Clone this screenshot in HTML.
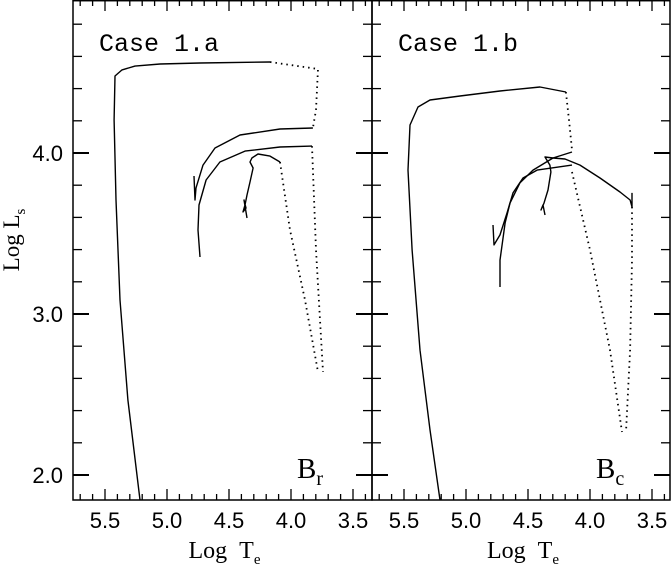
<!DOCTYPE html>
<html><head><meta charset="utf-8"><style>
html,body{margin:0;padding:0;background:#fff;}
svg{display:block;font-family:"Liberation Sans",sans-serif;}
</style></head><body>
<svg id="c" width="672" height="569" viewBox="0 0 672 569"></svg>
<script>
// Data (log Te, log L)
const xTicks = [5.5, 5.0, 4.5, 4.0, 3.5];
const xTickLabels = ["5.5", "5.0", "4.5", "4.0", "3.5"];
const yTicks = [2.0, 3.0, 4.0];
const yTickLabels = ["2.0", "3.0", "4.0"];
const panelTitles = ["Case 1.a", "Case 1.b"];
// Panel A tracks
const aMainT = [5.218,5.315,5.379,5.411,5.427,5.419,5.363,5.258,5.056,4.734,4.169];
const aMainL = [1.845,2.466,3.087,3.708,4.205,4.478,4.516,4.540,4.553,4.559,4.565];
const aDot1T = [4.169,3.782,3.798,3.823];
const aDot1L = [4.565,4.522,4.267,4.155];
const aUpT = [3.823,4.089,4.411,4.613,4.710,4.766,4.774,4.782];
const aUpL = [4.155,4.149,4.112,4.031,3.925,3.783,3.708,3.857];
const aLowT = [4.734,4.750,4.742,4.685,4.573,4.371,4.089,3.831];
const aLowL = [3.354,3.522,3.677,3.832,3.944,4.012,4.037,4.043];
const aDot2T = [3.831,3.798,3.766,3.742];
const aDot2L = [4.043,3.398,2.963,2.640];
const aDot3T = [4.089,4.008,3.887,3.782];
const aDot3L = [3.944,3.522,3.087,2.640];
const aLoopT = [4.089,4.169,4.266,4.315,4.331,4.306,4.331,4.355,4.371,4.387,4.363,4.379,4.355];
const aLoopL = [3.944,3.981,3.994,3.969,3.944,3.907,3.820,3.739,3.677,3.634,3.658,3.708,3.596];
// Panel B tracks
const bMainT = [5.210,5.290,5.371,5.435,5.468,5.452,5.387,5.290,5.048,4.726,4.403,4.194];
const bMainL = [1.845,2.280,2.776,3.398,3.894,4.174,4.286,4.329,4.354,4.385,4.410,4.379];
const bDot1T = [4.194,4.169,4.145];
const bDot1L = [4.379,4.205,4.019];
const bOutT = [4.145,4.298,4.460,4.565,4.645,4.685,4.726,4.726];
const bOutL = [4.006,3.969,3.894,3.814,3.689,3.565,3.335,3.168];
const bInT = [4.145,4.427,4.540,4.621,4.669,4.726,4.774,4.782];
const bInL = [3.925,3.894,3.845,3.752,3.627,3.491,3.429,3.553];
const bArcT = [4.298,4.202,4.081,3.919,3.758,3.677,3.661,3.661];
const bArcL = [3.969,3.963,3.925,3.845,3.758,3.708,3.665,3.752];
const bDot2T = [3.661,3.661,3.677,3.710];
const bDot2L = [3.665,3.335,2.776,2.267];
const bDot3T = [4.145,4.000,3.839,3.742];
const bDot3L = [3.882,3.398,2.776,2.267];
const bLoopT = [4.298,4.363,4.323,4.315,4.339,4.371,4.395,4.379,4.363];
const bLoopL = [3.969,3.975,3.925,3.882,3.770,3.689,3.646,3.677,3.615];

const svg = document.getElementById('c');
const NS = 'http://www.w3.org/2000/svg';
const panels = [{x0:73,x1:372,ref:105},{x0:372,x1:670,ref:404}];
const yTop = 0, yBot = 500;
function sx(p, t){ return p.ref + (5.5 - t) * 124; }
function sy(l){ return 475 - (l - 2) * 161; }
function mk(tag, attrs){ const e = document.createElementNS(NS, tag); for (const k in attrs) e.setAttribute(k, attrs[k]); svg.appendChild(e); return e; }
function line(x1,y1,x2,y2,w){ return mk('line',{x1,y1,x2,y2,stroke:'#000','stroke-width':w||1.3}); }

panels.forEach((p, i) => {
  const fr = mk('rect',{x:p.x0,y:yTop+0.7,width:p.x1-p.x0,height:yBot-yTop-0.7,fill:'none',stroke:'#000','stroke-width':1.5});
  
  
  for (let k = 0; k <= 25; k++) {
    const t = 5.8 - k * 0.1;
    const x = sx(p, t);
    if (x <= p.x0 + 1 || x >= p.x1 - 1) continue;
    const major = Math.abs(t * 2 - Math.round(t * 2)) < 1e-6;
    const len = major ? 11 : 6;
    line(x, yBot, x, yBot - len);
    line(x, yTop, x, yTop + len);
  }
  for (let k = 0; k <= 16; k++) {
    const l = 1.8 + k * 0.2;
    const y = sy(l);
    if (y <= yTop + 1 || y >= yBot - 1) continue;
    const major = Math.abs(l - Math.round(l)) < 1e-6;
    const len = major ? 16 : 9;
    line(p.x0, y, p.x0 + len, y, major ? 2 : 1.3);
    line(p.x1, y, p.x1 - len, y, major ? 2 : 1.3);
  }
  xTicks.forEach((t, j) => {
    const tx = mk('text',{x:sx(p,t),y:528,'font-size':22,'text-anchor':'middle'});
    tx.textContent = xTickLabels[j];
    
    
  });
  const xt = mk('text',{x:(p.x0+p.x1)/2 + 2,y:558,'font-size':24,'text-anchor':'middle','font-family':'Liberation Serif, serif'});
  xt.innerHTML = 'Log&#160;&#160;T<tspan font-size="15" dy="6">e</tspan>';
  
  
  const tt = mk('text',{x:p.x0 + 26,y:51,'font-size':25,'font-family':'Liberation Mono, monospace'});
  tt.textContent = panelTitles[i];
  
  
  const bl = mk('text',{x:p.x0 + 224,y:478,'font-size':29,'font-family':'Liberation Serif, serif'});
  bl.innerHTML = 'B<tspan font-size="20" dy="7">' + (i === 0 ? 'r' : 'c') + '</tspan>';
  
  
});

yTicks.forEach((l, j) => {
  const t = mk('text',{x:63,y:sy(l)+8,'font-size':22,'text-anchor':'end'});
  t.textContent = yTickLabels[j];
  
  
});
const yt = mk('text',{x:0,y:0,'font-size':23,'text-anchor':'middle','font-family':'Liberation Serif, serif',transform:'translate(19,240) rotate(-90)'});
yt.innerHTML = 'Log&#160;L<tspan font-size="15" dy="6">s</tspan>';



function track(p, T, L, dotted, name){
  const d = T.map((t, k) => (k ? 'L' : 'M') + sx(p, t).toFixed(1) + ' ' + sy(L[k]).toFixed(1)).join(' ');
  const e = mk('path',{d,fill:'none',stroke:'#000','stroke-width':dotted?1.8:1.4,'stroke-linejoin':'round','stroke-dasharray':dotted?'1.5 4':'none'});
  
  
}
const A = panels[0], B = panels[1];
track(A, aMainT, aMainL, false, 'track-a-main');
track(A, aDot1T, aDot1L, true, 'track-a-dotted-1');
track(A, aUpT, aUpL, false, 'track-a-upper');
track(A, aLowT, aLowL, false, 'track-a-lower');
track(A, aDot2T, aDot2L, true, 'track-a-dotted-2');
track(A, aDot3T, aDot3L, true, 'track-a-dotted-3');
track(A, aLoopT, aLoopL, false, 'track-a-loop');
track(B, bMainT, bMainL, false, 'track-b-main');
track(B, bDot1T, bDot1L, true, 'track-b-dotted-1');
track(B, bOutT, bOutL, false, 'track-b-outer');
track(B, bInT, bInL, false, 'track-b-inner');
track(B, bArcT, bArcL, false, 'track-b-arc');
track(B, bDot2T, bDot2L, true, 'track-b-dotted-2');
track(B, bDot3T, bDot3L, true, 'track-b-dotted-3');
track(B, bLoopT, bLoopL, false, 'track-b-loop');
</script>
</body></html>
